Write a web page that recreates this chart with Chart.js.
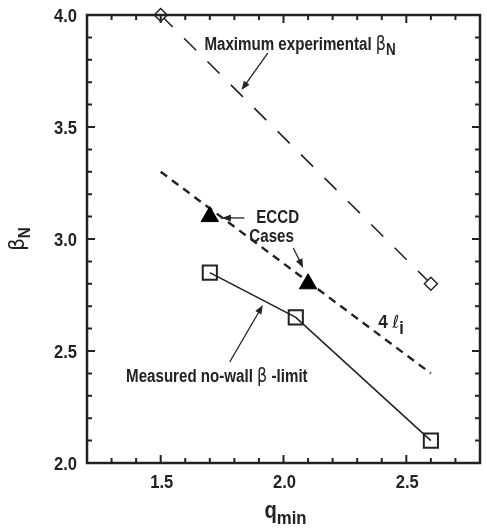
<!DOCTYPE html>
<html>
<head>
<meta charset="utf-8">
<script src="https://cdn.jsdelivr.net/npm/chart.js@4"></script>
<style>
  html, body { margin: 0; padding: 0; background: #fff; overflow: hidden; }
  #wrap { width: 492px; height: 528px; }
</style>
</head>
<body>
<div id="wrap"><canvas id="myChart" width="492" height="528"></canvas></div>
<script>
// data
const maxExpQ = [1.5, 2.6];
const maxExpBeta = [4.0, 2.8];
const noWallQ = [1.7, 2.05, 2.6];
const noWallBeta = [2.85, 2.65, 2.1];
const eccdQ = [1.7, 2.1];
const eccdBeta = [3.1, 2.8];
const liQ = [1.5, 2.6];
const liBeta = [3.3, 2.4];
const xMajorTicks = [1.5, 2.0, 2.5];
const yMajorTicks = [2.0, 2.5, 3.0, 3.5, 4.0];

const SANS = '"Liberation Sans", Arial, sans-serif';
const SYM = '"DejaVu Sans", sans-serif';
const INK = "#222";
const SQUEEZE = 0.84; // the original lettering is a narrow Helvetica

const pts = (xs, ys) => xs.map((x, i) => ({ x: x, y: ys[i] }));
const isMajor = (v, list) => list.some((m) => Math.abs(m - v) < 1e-6);

// rich text: parts are [text, font, dy]
function drawRich(ctx, x, y, parts, squeeze, align) {
  const sq = squeeze || SQUEEZE;
  let total = 0;
  parts.forEach((p) => { ctx.font = p[1]; total += ctx.measureText(p[0]).width; });
  ctx.save();
  ctx.translate(x, y);
  ctx.scale(sq, 1);
  let cx = align === "center" ? -total / 2 : align === "right" ? -total : 0;
  parts.forEach((p) => {
    ctx.font = p[1];
    ctx.fillText(p[0], cx, p[2] || 0);
    cx += ctx.measureText(p[0]).width;
  });
  ctx.restore();
}

function arrow(ctx, x1, y1, x2, y2) {
  const a = Math.atan2(y2 - y1, x2 - x1);
  ctx.beginPath();
  ctx.moveTo(x1, y1);
  ctx.lineTo(x2 - 6 * Math.cos(a), y2 - 6 * Math.sin(a));
  ctx.stroke();
  ctx.beginPath();
  ctx.moveTo(x2, y2);
  ctx.lineTo(x2 - 9 * Math.cos(a) + 3.5 * Math.sin(a), y2 - 9 * Math.sin(a) - 3.5 * Math.cos(a));
  ctx.lineTo(x2 - 9 * Math.cos(a) - 3.5 * Math.sin(a), y2 - 9 * Math.sin(a) + 3.5 * Math.cos(a));
  ctx.closePath();
  ctx.fill();
}

const decorations = {
  id: "decorations",
  afterDraw(chart) {
    const ctx = chart.ctx;
    const a = chart.chartArea;
    const xs = chart.scales.x, ys = chart.scales.y;
    const X = (v) => xs.getPixelForValue(v);
    const Y = (v) => ys.getPixelForValue(v);
    ctx.save();
    ctx.strokeStyle = INK;
    ctx.fillStyle = INK;

    // frame
    ctx.lineWidth = 2.5;
    ctx.strokeRect(a.left, a.top, a.right - a.left, a.bottom - a.top);

    // inward ticks on all four sides
    ctx.lineWidth = 2;
    xs.ticks.forEach((t) => {
      const p = X(t.value);
      const len = isMajor(t.value, xMajorTicks) ? 8 : 5;
      ctx.beginPath();
      ctx.moveTo(p, a.bottom); ctx.lineTo(p, a.bottom - len);
      ctx.moveTo(p, a.top); ctx.lineTo(p, a.top + len);
      ctx.stroke();
    });
    ys.ticks.forEach((t) => {
      const p = Y(t.value);
      const len = isMajor(t.value, yMajorTicks) ? 8 : 5;
      ctx.beginPath();
      ctx.moveTo(a.left, p); ctx.lineTo(a.left + len, p);
      ctx.moveTo(a.right, p); ctx.lineTo(a.right - len, p);
      ctx.stroke();
    });

    // tick labels
    ctx.textBaseline = "alphabetic";
    ctx.textAlign = "left";
    const tickFont = "bold 18px " + SANS;
    xMajorTicks.forEach((v) => {
      drawRich(ctx, X(v) + 1, a.bottom + 25, [[v.toFixed(1), tickFont]], 0.92, "center");
    });
    yMajorTicks.forEach((v) => {
      drawRich(ctx, a.left - 10, Y(v) + 6.5, [[v.toFixed(1), tickFont]], 0.92, "right");
    });

    // axis titles
    const cx = (a.left + a.right) / 2;
    drawRich(ctx, cx + 2, a.bottom + 55, [["q", "bold 23px " + SANS], ["min", "bold 19px " + SANS, 6]], 0.88, "center");
    ctx.save();
    ctx.translate(24, (a.top + a.bottom) / 2);
    ctx.rotate(-Math.PI / 2);
    drawRich(ctx, 0, 0, [["\u03B2", "22px " + SYM], ["N", "bold 17px " + SANS, 6]], 0.9, "center");
    ctx.restore();

    // annotations (anchored in data coordinates)
    drawRich(ctx, X(1.678), Y(3.844), [
      ["Maximum experimental ", "bold 18px " + SANS],
      ["\u03B2", "19px " + SYM],
      ["N", "bold 16px " + SANS, 5],
    ]);
    drawRich(ctx, X(1.889), Y(3.071), [["ECCD", "bold 18px " + SANS]]);
    drawRich(ctx, X(1.861), Y(2.987), [["Cases", "bold 18px " + SANS]]);
    drawRich(ctx, X(2.386), Y(2.603), [
      ["4 ", "bold 19px " + SANS],
      ["\u2113", "italic 18px " + SYM],
      ["i", "bold 18px " + SANS, 6],
    ], 0.9);
    drawRich(ctx, X(1.359), Y(2.362), [
      ["Measured no-wall ", "bold 18px " + SANS],
      ["\u03B2", "19px " + SYM],
      [" -limit", "bold 18px " + SANS],
    ]);

    ctx.lineWidth = 1.3;
    arrow(ctx, X(1.936), Y(3.830), X(1.829), Y(3.665));
    arrow(ctx, X(1.841), Y(3.094), X(1.749), Y(3.094));
    arrow(ctx, X(2.04), Y(2.96), X(2.08), Y(2.871));
    arrow(ctx, X(1.781), Y(2.451), X(1.916), Y(2.705));
    ctx.restore();
  },
};

const ctx = document.getElementById("myChart").getContext("2d");
const myChart = new Chart(ctx, {
  type: "scatter",
  data: {
    datasets: [
      {
        label: "Maximum experimental",
        data: pts(maxExpQ, maxExpBeta),
        showLine: true,
        borderColor: INK,
        borderWidth: 1.6,
        borderDash: [17, 16],
        pointStyle: "rectRot",
        pointRadius: 6.5,
        pointBackgroundColor: "#fff",
        pointBorderColor: INK,
        pointBorderWidth: 1.5,
        clip: false,
      },
      {
        label: "Measured no-wall limit",
        data: pts(noWallQ, noWallBeta),
        showLine: true,
        borderColor: INK,
        borderWidth: 1.6,
        pointStyle: "rect",
        pointRadius: 10,
        pointBackgroundColor: "rgba(255,255,255,0)",
        pointBorderColor: INK,
        pointBorderWidth: 2,
        clip: false,
      },
      {
        label: "ECCD cases",
        data: pts(eccdQ, eccdBeta),
        showLine: false,
        pointStyle: "triangle",
        pointRadius: 10,
        pointBackgroundColor: "#000",
        pointBorderColor: "#000",
        pointBorderWidth: 1,
      },
      {
        label: "4 li",
        data: pts(liQ, liBeta),
        showLine: true,
        borderColor: INK,
        borderWidth: 2.4,
        borderDash: [8, 6],
        pointRadius: 0,
      },
    ],
  },
  options: {
    responsive: false,
    animation: false,
    layout: { padding: { top: 15, right: 1, left: 0, bottom: 0 } },
    plugins: { legend: { display: false }, tooltip: { enabled: false } },
    scales: {
      x: {
        type: "linear",
        min: 1.2,
        max: 2.8,
        afterFit: (s) => { s.height = 65; },
        grid: { display: false, drawTicks: false },
        border: { display: false },
        ticks: { display: false, stepSize: 0.1, autoSkip: false },
      },
      y: {
        type: "linear",
        min: 2.0,
        max: 4.0,
        afterFit: (s) => { s.width = 87; },
        grid: { display: false, drawTicks: false },
        border: { display: false },
        ticks: { display: false, stepSize: 0.1, autoSkip: false },
      },
    },
  },
  plugins: [decorations],
});
</script>
</body>
</html>
